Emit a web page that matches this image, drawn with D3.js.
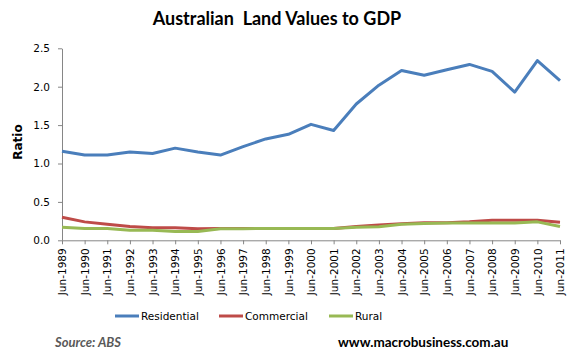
<!DOCTYPE html>
<html><head><meta charset="utf-8">
<script src="https://cdn.jsdelivr.net/npm/d3@7"></script>
<style>body{margin:0;background:#fff}svg{display:block}</style>
</head><body>
<svg id="c" width="578" height="360"></svg>
<script>
const years = ["Jun-1989","Jun-1990","Jun-1991","Jun-1992","Jun-1993","Jun-1994","Jun-1995","Jun-1996","Jun-1997","Jun-1998","Jun-1999","Jun-2000","Jun-2001","Jun-2002","Jun-2003","Jun-2004","Jun-2005","Jun-2006","Jun-2007","Jun-2008","Jun-2009","Jun-2010","Jun-2011"];
const residential = [1.16,1.11,1.11,1.15,1.13,1.20,1.15,1.11,1.22,1.32,1.38,1.51,1.43,1.775,2.02,2.21,2.15,2.22,2.29,2.20,1.93,2.34,2.08];
const commercial = [0.30,0.24,0.21,0.18,0.165,0.165,0.15,0.155,0.155,0.155,0.155,0.155,0.155,0.18,0.20,0.215,0.23,0.23,0.24,0.26,0.26,0.26,0.235];
const rural = [0.17,0.155,0.155,0.13,0.13,0.115,0.115,0.15,0.15,0.155,0.155,0.155,0.155,0.17,0.175,0.21,0.22,0.225,0.225,0.225,0.225,0.24,0.18];
const yTicks = [0,0.5,1.0,1.5,2.0,2.5];
const seriesNames = ["Residential","Commercial","Rural"];
const colors = ["#4A7EBB","#BE4B48","#98B954"];

const svg = d3.select("#c");
const mLeft = 62, mRight = 560, mTop = 48.3, mBottom = 240.3;
const x = d3.scalePoint().domain(years).range([mLeft, mRight]);
const y = d3.scaleLinear().domain([0, 2.5]).range([mBottom, mTop]);
const axisColor = "#868686";
const tickFont = "DejaVu Sans, Tahoma, sans-serif";

// title
svg.append("text").attr("x", 277).attr("y", 25).attr("text-anchor","middle")
  .attr("font-family","Lato, Carlito, Calibri, sans-serif").attr("font-weight","bold").attr("font-size",18)
  .attr("fill","#000").attr("xml:space","preserve").text("Australian  Land Values to GDP");

// y axis
const yAxis = svg.append("g").attr("transform",`translate(${mLeft},0)`)
  .call(d3.axisLeft(y).tickValues(yTicks).tickFormat(d3.format(".1f")).tickSize(4).tickSizeOuter(0));
yAxis.select(".domain").attr("stroke",axisColor);
yAxis.selectAll(".tick line").attr("stroke",axisColor);
yAxis.selectAll(".tick text").attr("x",-12).attr("font-family",tickFont).attr("font-size",10.5).attr("fill","#000");

// x axis
const xAxis = svg.append("g").attr("transform",`translate(0,${mBottom})`)
  .call(d3.axisBottom(x).tickSize(4).tickSizeOuter(0));
xAxis.select(".domain").attr("stroke",axisColor);
xAxis.selectAll(".tick line").attr("stroke",axisColor);
xAxis.selectAll(".tick text").attr("font-family",tickFont).attr("font-size",10.5).attr("fill","#000")
  .attr("text-anchor","end").attr("transform","rotate(-90)").attr("x",-8).attr("y",0).attr("dy","0.35em");

// y label
svg.append("text").attr("transform","translate(22,142) rotate(-90)").attr("text-anchor","middle")
  .attr("font-family",tickFont).attr("font-weight","bold").attr("font-size",12).attr("fill","#000").text("Ratio");

// lines
const data = [residential, commercial, rural];
const line = d3.line().x((d,i)=>x(years[i])).y(d=>y(d));
[0,1,2].forEach(k=>{
  svg.append("path").datum(data[k]).attr("d",line).attr("fill","none")
    .attr("stroke",colors[k]).attr("stroke-width",3).attr("stroke-linejoin","round");
});

// legend
const legX = [115, 219, 329];
seriesNames.forEach((n,i)=>{
  svg.append("line").attr("x1",legX[i]).attr("x2",legX[i]+24).attr("y1",316).attr("y2",316)
    .attr("stroke",colors[i]).attr("stroke-width",3);
  svg.append("text").attr("x",legX[i]+26).attr("y",320).attr("font-family",tickFont).attr("font-size",10.5)
    .attr("fill","#000").text(n);
});

// footer
svg.append("text").attr("x",55).attr("y",347).attr("font-family","Lato, Carlito, Calibri, sans-serif")
  .attr("font-weight","bold").attr("font-style","italic").attr("font-size",13).attr("fill","#595959").text("Source: ABS");
svg.append("text").attr("x",338).attr("y",347).attr("font-family","Lato, Carlito, Calibri, sans-serif")
  .attr("font-weight","bold").attr("font-size",13.5).attr("fill","#000").text("www.macrobusiness.com.au");
</script>
</body></html>
